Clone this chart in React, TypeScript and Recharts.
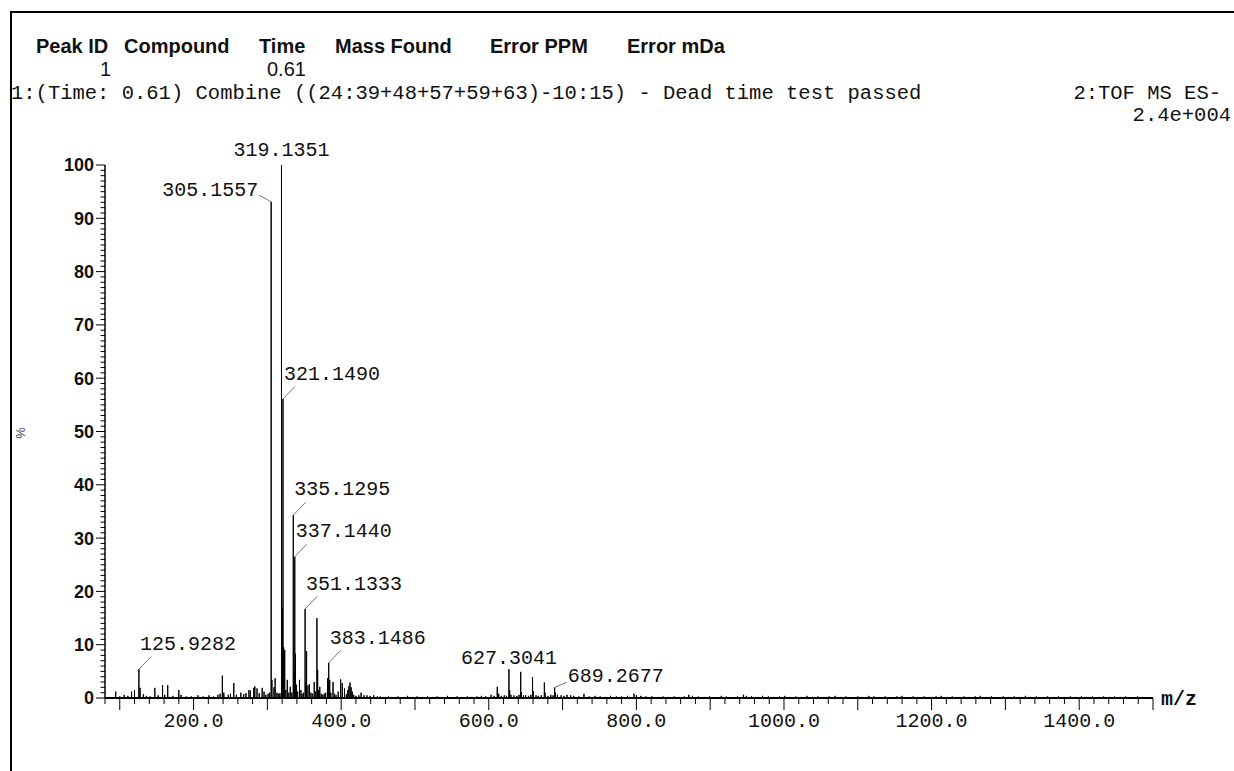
import { ComposedChart, Line, Scatter, XAxis, YAxis } from 'recharts';

type Peak = [number, number];

// labelled ions (m/z, relative intensity %)
const labelledMz = [125.9282, 305.1557, 319.1351, 321.149, 335.1295, 337.144, 351.1333, 383.1486, 627.3041, 689.2677];
const labelledIntensity = [5.4, 93.1, 100, 56.1, 34.3, 26.5, 16.7, 6.6, 5.4, 2.0];

// unlabelled sticks, low mass region
const lowMassPeaks: Peak[] = [
    [94.5, 1.2], [100, 0.3], [106, 0.6], [111, 0.4], [116, 1.2], [120, 1.5], [127.5, 1.9], [132, 0.7],
    [136, 0.4], [141, 0.3], [147.5, 1.9], [152, 0.5], [158, 2.4], [161, 0.6], [165, 2.4], [172, 0.4],
    [180, 1.5], [183, 0.6], [190, 0.3], [197, 0.3], [206, 0.5], [213, 0.3], [221, 0.5], [227, 0.3],
    [233, 0.6], [236, 0.8], [239, 4.2], [241, 1.0], [247, 0.6], [250, 0.8], [254.5, 2.8], [258, 0.6],
    [264, 1.0], [268, 0.7], [271, 0.9], [275, 1.5], [277, 1.4], [281.5, 1.9], [283, 2.2], [286, 1.8],
    [289, 0.9], [293, 1.9], [295.5, 1.2], [298, 0.6], [301, 0.8], [303, 1.0],
];

// sticks around the main cluster
const mainClusterPeaks: Peak[] = [
    [306.16, 3.4], [309, 2.0], [310.5, 3.7], [313, 1.0], [315, 0.8], [317, 0.9], [320.14, 17], [322.15, 9.5],
    [323.5, 9.0], [325, 1.5], [327, 3.4], [329, 1.0], [331, 2.1], [333, 1.0], [336.13, 5.0], [338.14, 8.3],
    [339.5, 2.5], [341, 1.2], [343.5, 3.4], [345.5, 1.5], [347, 0.8], [349, 1.0], [352.13, 3.0], [353.14, 8.8],
    [355, 2.4], [357, 2.6], [359, 1.0], [361, 0.8], [363.5, 3.0], [365, 1.2], [367.13, 15.0], [368.13, 5.3],
    [369.5, 1.5], [371, 2.1], [373, 0.8], [375, 0.6], [377, 0.8], [379, 1.0], [381.5, 3.7], [384.5, 3.4],
    [386, 1.0], [389, 3.0], [391, 0.8], [393, 0.6], [396, 1.2], [399.3, 3.5], [401.5, 2.8], [404.5, 1.8],
    [407, 0.7], [409, 1.5], [410.5, 2.2], [412, 2.9], [413.5, 2.0], [415, 1.2], [417, 0.6], [420, 0.4],
    [424, 0.5], [427, 1.0], [431, 0.5], [435, 0.5], [439, 0.4], [444, 0.5], [449, 0.3],
];

// dimer region
const dimerPeaks: Peak[] = [
    [603, 0.6], [607, 0.4], [611.5, 2.1], [613.5, 0.8], [617, 0.4], [621, 0.5], [624, 0.4], [628.3, 1.5],
    [630, 0.6], [634, 0.5], [638, 0.4], [641, 0.6], [643.3, 4.9], [644.3, 1.1], [647, 0.5], [650, 0.5],
    [654, 0.4], [657, 0.6], [659.3, 3.9], [660.3, 1.3], [664, 0.5], [667, 0.4], [671, 0.5], [675.3, 2.9],
    [676.3, 1.0], [680, 0.4], [684, 0.6], [687, 0.5], [690.3, 1.0], [693, 0.6], [698, 0.5], [702, 0.4],
    [706, 0.6], [711, 0.5], [715, 0.4],
];

// baseline noise
const noisePeaks: Peak[] = [
    [453, 0.3], [458, 0.2], [464, 0.3], [470, 0.2], [477, 0.3], [483, 0.2], [490, 0.4], [497, 0.2],
    [503, 0.3], [510, 0.2], [517, 0.3], [524, 0.2], [530, 0.3], [537, 0.2], [544, 0.4], [551, 0.2],
    [557, 0.3], [564, 0.2], [571, 0.3], [577, 0.2], [584, 0.3], [590, 0.4], [596, 0.3],
    [722, 0.3], [729, 0.8], [736, 0.3], [744, 0.4], [751, 0.3], [758, 0.2], [765, 0.4], [773, 0.3],
    [780, 0.3], [788, 0.4], [796.7, 0.8], [800, 0.5], [806, 0.4], [813, 0.3], [821, 0.3], [829, 0.2],
    [836, 0.3], [844, 0.2], [851, 0.3], [858, 0.2], [865, 0.3], [871, 0.6], [876, 0.4], [884, 0.3],
    [892, 0.2], [899, 0.3], [907, 0.2], [915, 0.4], [922, 0.3], [930, 0.2], [937, 0.3], [945, 0.6],
    [949, 0.4], [956, 0.3], [964, 0.2], [971, 0.4], [979, 0.3], [986, 0.2], [994, 0.3], [1001, 0.4],
    [1008, 0.2], [1016, 0.3], [1023, 0.2], [1031, 0.4], [1039, 0.2], [1046, 0.3], [1054, 0.2], [1061, 0.3],
    [1069, 0.4], [1077, 0.2], [1084, 0.3], [1092, 0.2], [1100, 0.3], [1107, 0.2], [1115, 0.4], [1122, 0.3],
    [1130, 0.2], [1137, 0.3], [1145, 0.2], [1153, 0.3], [1160, 0.4], [1168, 0.2], [1175, 0.3], [1183, 0.2],
    [1190, 0.3], [1198, 0.2], [1206, 0.3], [1213, 0.4], [1221, 0.2], [1228, 0.3], [1236, 0.2], [1244, 0.3],
    [1251, 0.2], [1259, 0.3], [1266, 0.4], [1274, 0.2], [1281, 0.3], [1289, 0.2], [1297, 0.3], [1304, 0.2],
    [1312, 0.3], [1319, 0.2], [1327, 0.4], [1334, 0.2], [1342, 0.3], [1350, 0.2], [1357, 0.3], [1365, 0.2],
    [1372, 0.3], [1380, 0.2], [1388, 0.3], [1395, 0.2], [1403, 0.3], [1410, 0.2], [1418, 0.3], [1426, 0.2],
    [1433, 0.3], [1441, 0.2], [1448, 0.3], [1456, 0.2], [1463, 0.3], [1471, 0.2], [1479, 0.3], [1486, 0.2],
    [1494, 0.2],
];

const xLabelTicks = [200, 400, 600, 800, 1000, 1200, 1400];
const yLabelTicks = [0, 10, 20, 30, 40, 50, 60, 70, 80, 90, 100];

const headerColumns = ['Peak ID', 'Compound', 'Time', 'Mass Found', 'Error PPM', 'Error mDa'];
const headerRow = ['1', '', '0.61', '', '', ''];
const scanTitle = '1:(Time: 0.61) Combine ((24:39+48+57+59+63)-10:15) - Dead time test passed';
const scanFunction = '2:TOF MS ES-';
const basePeakCount = '2.4e+004';

// where each label sits relative to its stick
const labelSide = ['right', 'left', 'above', 'right', 'right', 'right', 'right', 'right', 'above', 'flat'];
const labelLift = [19, 6, 9, 19, 20, 20, 19, 19, 5, 5];

const MONO = "'Courier New', 'Liberation Mono', monospace";
const SANS = "Arial, 'Liberation Sans', sans-serif";

const X_MIN = 80;
const X_MAX = 1500;

const xTicks: number[] = [];
for (let v = X_MIN; v <= X_MAX; v += 20) xTicks.push(v);
const yTicks: number[] = [];
for (let v = 0; v <= 100; v += 1) yTicks.push(v);

// every stick goes baseline -> top -> baseline so one line draws the whole spectrum
const allPeaks: Peak[] = [
    ...lowMassPeaks,
    ...mainClusterPeaks,
    ...dimerPeaks,
    ...noisePeaks,
    ...labelledMz.map((mz, i) => [mz, labelledIntensity[i]] as Peak),
].sort((a, b) => a[0] - b[0]);

const stickData: { mz: number; v: number }[] = [{ mz: X_MIN, v: 0 }];
allPeaks.forEach(([mz, v]) => {
    stickData.push({ mz, v: 0 }, { mz, v }, { mz, v: 0 });
});
stickData.push({ mz: X_MAX, v: 0 });

const labelData = labelledMz.map((mz, i) => ({
    mz,
    v: labelledIntensity[i],
    text: mz.toFixed(4),
    side: labelSide[i],
    lift: labelLift[i],
}));

const XTick = ({ x, y, payload }: any) => {
    const v = payload.value;
    const major = v % 100 === 0;
    return (
        <g>
            <line x1={x} y1={y} x2={x} y2={y + (major ? 12 : 6)} stroke="#000" strokeWidth={1} />
            {xLabelTicks.includes(v) && (
                <text x={x} y={y + 29} textAnchor="middle" fontFamily={MONO} fontSize={20} fill="#111">
                    {v.toFixed(1)}
                </text>
            )}
        </g>
    );
};

const YTick = ({ x, y, payload }: any) => {
    const v = payload.value;
    const major = yLabelTicks.includes(v);
    return (
        <g>
            <line x1={x - (major ? 9 : 4.5)} y1={y} x2={x} y2={y} stroke="#000" strokeWidth={1} />
            {major && (
                <text x={x - 11} y={y} dy="0.36em" textAnchor="end" fontFamily={SANS} fontWeight="bold" fontSize={18} fill="#111">
                    {v}
                </text>
            )}
        </g>
    );
};

const PeakLabel = (props: any) => {
    const { cx, cy, payload } = props;
    const { text, side, lift } = payload;
    const font = { fontFamily: MONO, fontSize: 20, fill: '#111' };
    if (side === 'above') {
        return <text x={cx} y={cy - lift} textAnchor="middle" {...font}>{text}</text>;
    }
    if (side === 'left') {
        return (
            <g>
                <line x1={cx} y1={cy} x2={cx - 12} y2={cy - 6.5} stroke="#777" strokeWidth={1} />
                <text x={cx - 13} y={cy - lift} textAnchor="end" {...font}>{text}</text>
            </g>
        );
    }
    if (side === 'flat') {
        return (
            <g>
                <line x1={cx} y1={cy} x2={cx + 12} y2={cy - 5} stroke="#777" strokeWidth={1} />
                <text x={cx + 13} y={cy - lift} textAnchor="start" {...font}>{text}</text>
            </g>
        );
    }
    return (
        <g>
            <line x1={cx} y1={cy} x2={cx + 12} y2={cy - 12.5} stroke="#777" strokeWidth={1} />
            <text x={cx + 1} y={cy - lift} textAnchor="start" {...font}>{text}</text>
        </g>
    );
};

const headerX = [36, 124, 259, 335, 490, 627];
const rowX = [100, 0, 267, 0, 0, 0];

const App = () => {
    return (
        <div style={{ position: 'absolute', left: 0, top: 0, width: 1234, height: 771, background: '#fff', overflow: 'hidden' }}>
            <ComposedChart width={1234} height={771} margin={{ top: 165, right: 81, bottom: 13, left: 0 }}>
                <XAxis
                    type="number"
                    dataKey="mz"
                    domain={[X_MIN, X_MAX]}
                    ticks={xTicks}
                    interval={0}
                    tickLine={false}
                    tickSize={0}
                    tickMargin={0}
                    tick={(p: any) => <XTick {...p} />}
                    axisLine={{ stroke: '#000', strokeWidth: 2 }}
                    height={60}
                />
                <YAxis
                    type="number"
                    domain={[0, 100]}
                    ticks={yTicks}
                    interval={0}
                    tickLine={false}
                    tickSize={0}
                    tickMargin={0}
                    tick={(p: any) => <YTick {...p} />}
                    axisLine={{ stroke: '#000', strokeWidth: 1.5 }}
                    width={105}
                />
                <Line
                    data={stickData}
                    dataKey="v"
                    type="linear"
                    stroke="#000"
                    strokeWidth={1}
                    dot={false}
                    activeDot={false}
                    isAnimationActive={false}
                />
                <Scatter data={labelData} dataKey="v" shape={(p: any) => <PeakLabel {...p} />} isAnimationActive={false} />
            </ComposedChart>
            <svg width={1234} height={771} style={{ position: 'absolute', left: 0, top: 0, pointerEvents: 'none' }}>
                <rect x={11} y={12} width={1300} height={800} fill="none" stroke="#000" strokeWidth={2} />
                {headerColumns.map((h, i) => (
                    <text key={h} x={headerX[i]} y={53} fontFamily={SANS} fontWeight="bold" fontSize={20} fill="#111">
                        {h}
                    </text>
                ))}
                {headerRow.map((h, i) =>
                    h ? (
                        <text key={i} x={rowX[i]} y={76} fontFamily={SANS} fontSize={20} fill="#111">
                            {h}
                        </text>
                    ) : null
                )}
                <text x={11} y={99} fontFamily={MONO} fontSize={20.5} fill="#111">{scanTitle}</text>
                <text x={1221} y={99} textAnchor="end" fontFamily={MONO} fontSize={20.5} fill="#111">{scanFunction}</text>
                <text x={1231} y={121} textAnchor="end" fontFamily={MONO} fontSize={20.5} fill="#111">{basePeakCount}</text>
                <text x={1161} y={705} fontFamily={MONO} fontWeight="bold" fontSize={20} fill="#111">m/z</text>
                <text x={0} y={0} transform="translate(25 433) rotate(-90)" textAnchor="middle" fontFamily={SANS} fontSize={13} fill="#445">%</text>
            </svg>
        </div>
    );
};

export default App;
